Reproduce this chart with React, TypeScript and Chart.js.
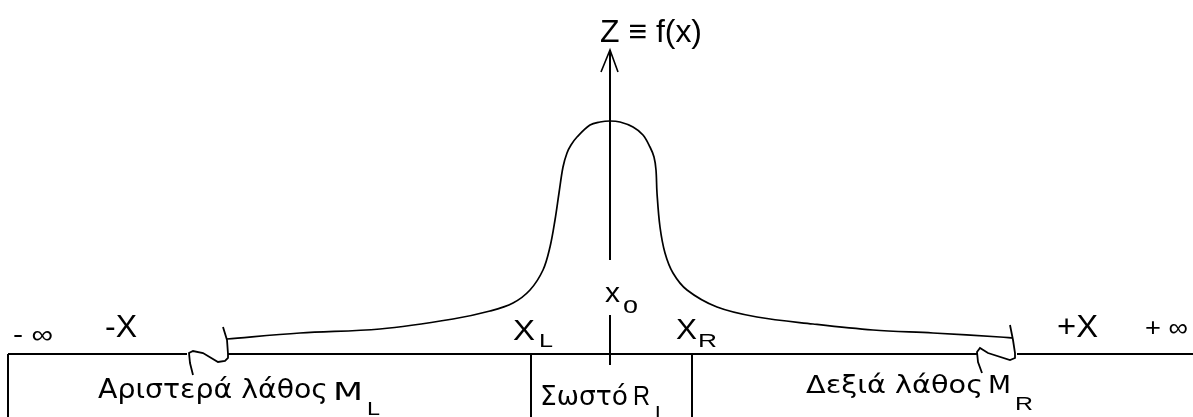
import React, { useEffect, useRef } from "react";
import { Chart, registerables } from "chart.js";

Chart.register(...registerables);

const W = 1193;
const H = 417;

// Bell-like curve Z = f(x): horizontal positions and heights above the X line
const curveX = [227, 300, 380, 453, 490, 513, 530, 543, 550, 555, 559, 563, 567, 571, 577, 590, 600, 610, 620, 633, 643, 650, 654, 656, 657, 660, 665, 673, 687, 717, 757, 813, 873, 933, 1000, 1013];
const curveZ = [15, 21, 25, 35, 43, 51, 64, 84, 107, 134, 161, 187, 201, 209, 217, 229, 232, 233, 232, 227, 219, 207, 197, 184, 161, 127, 101, 81, 64, 47, 37, 30, 24, 21, 17, 16];

// X line (broken by the two squiggles)
const lineLeftX = [8, 187];
const lineMidX = [228, 978];
const lineRightX = [1017, 1193];
const lineZ = [0, 0];

// Region boundaries below the X line
const boxLeftX = [8, 8];
const dividerLX = [531, 531];
const dividerRX = [692, 692];
const boxZ = [0, -70];

// Z axis with arrow (gap for the x_o label)
const axisX = [610, 610];
const axisTopZ = [304, 94];
const axisLowZ = [39, -11];
const arrowX = [601, 610, 618];
const arrowZ = [282, 304, 282];

// Break marks
const breakLX = [223, 227, 228, 228, 225, 218, 203, 193, 189, 190, 193];
const breakLZ = [27, 14, 0, -4, -7, -8, 1, 3, 1, -9, -21];
const breakRX = [1010, 1013, 1015, 1015, 1010, 988, 980, 977, 978, 982];
const breakRZ = [29, 14, 1, -4, -6, 1, 6, 2, -8, -19];

type Lbl = { t: string; x: number; y: number; size: number; w: number; font?: string };

const SANS = '"Liberation Sans", Arial, sans-serif';
const GREEK = '"DejaVu Sans", Verdana, sans-serif';

const labels: Lbl[] = [
  { t: "Z ≡ f(x)", x: 600, y: 312, size: 32, w: 102 },
  { t: "-X", x: 105, y: 17, size: 32, w: 32 },
  { t: "+X", x: 1057, y: 17, size: 32, w: 41 },
  { t: "- ∞", x: 13, y: 11, size: 25, w: 40 },
  { t: "+ ∞", x: 1145, y: 18, size: 25, w: 43 },
  { t: "X", x: 513, y: 14, size: 30, w: 22 },
  { t: "L", x: 539, y: 7, size: 19, w: 14 },
  { t: "x", x: 605, y: 52, size: 28, w: 15 },
  { t: "o", x: 623, y: 41, size: 24, w: 15 },
  { t: "X", x: 676, y: 15, size: 30, w: 21 },
  { t: "R", x: 698, y: 7, size: 19, w: 19 },
  { t: "Αριστερά λάθος", x: 98, y: -44, size: 26, w: 230, font: GREEK },
  { t: "M", x: 333, y: -46, size: 24, w: 30, font: GREEK },
  { t: "L", x: 367, y: -61, size: 19, w: 13 },
  { t: "Σωστό", x: 540, y: -51, size: 27, w: 88, font: GREEK },
  { t: "R", x: 633, y: -51, size: 27, w: 17 },
  { t: "L", x: 655, y: -65, size: 19, w: 12 },
  { t: "Δεξιά λάθος", x: 806, y: -39, size: 25, w: 177, font: GREEK },
  { t: "M", x: 988, y: -39, size: 24, w: 23, font: GREEK },
  { t: "R", x: 1015, y: -56, size: 19, w: 18 },
];

const zip = (xs: number[], zs: number[]) => xs.map((x, i) => ({ x, y: zs[i] }));

const seg = (xs: number[], zs: number[], width: number, smooth = false) => ({
  data: zip(xs, zs),
  showLine: true,
  borderColor: "#000",
  backgroundColor: "#000",
  borderWidth: width,
  pointRadius: 0,
  pointHoverRadius: 0,
  fill: false,
  tension: smooth ? 0.35 : 0,
});

const textPlugin = {
  id: "diagramText",
  afterDatasetsDraw(chart: any) {
    const { ctx, scales } = chart;
    ctx.save();
    ctx.fillStyle = "#000";
    ctx.textBaseline = "alphabetic";
    ctx.textAlign = "left";
    for (const l of labels) {
      ctx.font = `${l.size}px ${l.font || SANS}`;
      const px = scales.x.getPixelForValue(l.x);
      const py = scales.y.getPixelForValue(l.y);
      const m = ctx.measureText(l.t).width || 1;
      ctx.save();
      ctx.translate(px, py);
      ctx.scale(l.w / m, 1);
      ctx.fillText(l.t, 0, 0);
      ctx.restore();
    }
    ctx.restore();
  },
};

export default function App() {
  const ref = useRef<HTMLCanvasElement>(null);
  useEffect(() => {
    if (!ref.current) return;
    const chart = new Chart(ref.current, {
      type: "scatter",
      data: {
        datasets: [
          seg(lineLeftX, lineZ, 2),
          seg(lineMidX, lineZ, 2),
          seg(lineRightX, lineZ, 2),
          seg(boxLeftX, boxZ, 2),
          seg(dividerLX, boxZ, 2),
          seg(dividerRX, boxZ, 2),
          seg(axisX, axisTopZ, 2),
          seg(axisX, axisLowZ, 2),
          seg(arrowX, arrowZ, 1.6),
          seg(breakLX, breakLZ, 1.8),
          seg(breakRX, breakRZ, 1.8),
          seg(curveX, curveZ, 1.7, true),
        ] as any,
      },
      options: {
        responsive: false,
        animation: false,
        devicePixelRatio: 1,
        events: [],
        layout: { padding: 0, autoPadding: false },
        plugins: { legend: { display: false }, tooltip: { enabled: false } },
        scales: {
          x: { type: "linear", min: 0, max: W, display: false },
          y: { type: "linear", min: 354 - H, max: 354, display: false },
        },
      },
      plugins: [textPlugin],
    });
    return () => chart.destroy();
  }, []);
  return (
    <div style={{ position: "absolute", left: 0, top: 0, width: W, height: H, background: "#fff" }}>
      <canvas ref={ref} width={W} height={H} style={{ width: W, height: H, display: "block" }} />
    </div>
  );
}
